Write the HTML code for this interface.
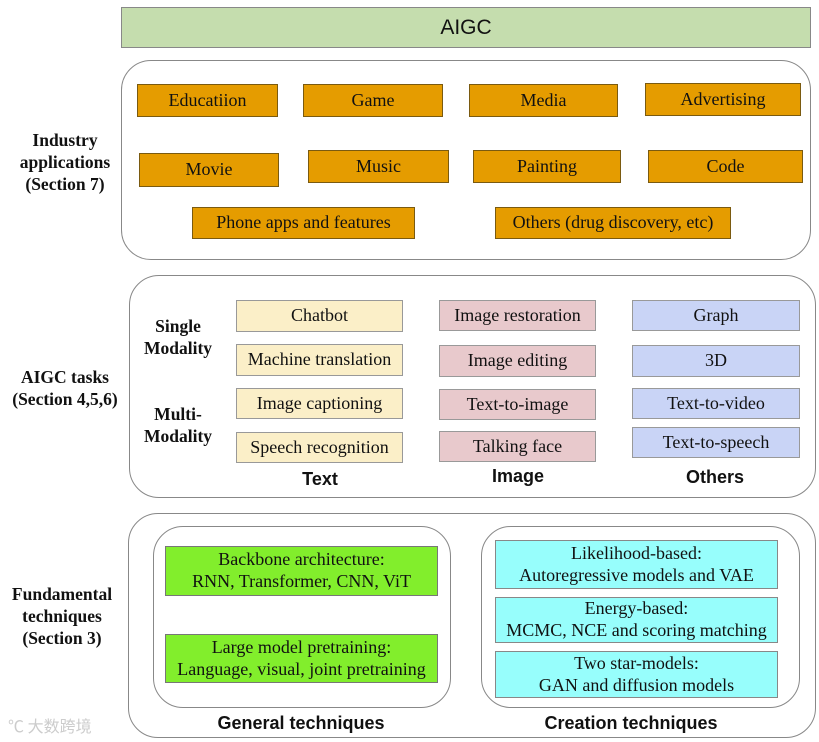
<!DOCTYPE html><html><head><style>
body{margin:0;width:819px;height:742px;background:#fff;position:relative;overflow:hidden;font-family:"Liberation Serif",serif;}
div{position:absolute;box-sizing:border-box;}
.b{display:flex;align-items:center;justify-content:center;text-align:center;font-size:18px;color:#111;line-height:1.2;white-space:nowrap;}
.o{background:#e59c00;border:1px solid #7a5a10;}
.y{background:#fbefc8;border:1px solid #999;}
.p{background:#e8c9cc;border:1px solid #999;}
.u{background:#c9d4f6;border:1px solid #999;}
.g{background:#82ee2c;border:1px solid #777;}
.c{background:#97fefc;border:1px solid #888;}
.r{border:1px solid #888;border-radius:30px;}
.l{font-weight:bold;font-size:17.5px;text-align:center;line-height:22px;color:#111;}
.h{font-family:"Liberation Sans",sans-serif;font-weight:bold;font-size:18px;text-align:center;color:#111;}
</style></head><body>
<div class="b" style="left:121px;top:7px;width:690px;height:41px;background:#c5ddae;border:1px solid #888;font-family:'Liberation Sans',sans-serif;font-size:21px;">AIGC</div>
<div class="r" style="left:121px;top:60px;width:690px;height:200px;"></div>
<div class="b o" style="left:137px;top:84px;width:141px;height:33px;">Educatiion</div>
<div class="b o" style="left:303px;top:84px;width:140px;height:33px;">Game</div>
<div class="b o" style="left:469px;top:84px;width:149px;height:33px;">Media</div>
<div class="b o" style="left:645px;top:83px;width:156px;height:33px;">Advertising</div>
<div class="b o" style="left:139px;top:153px;width:140px;height:34px;">Movie</div>
<div class="b o" style="left:308px;top:150px;width:141px;height:33px;">Music</div>
<div class="b o" style="left:473px;top:150px;width:148px;height:33px;">Painting</div>
<div class="b o" style="left:648px;top:150px;width:155px;height:33px;">Code</div>
<div class="b o" style="left:192px;top:207px;width:223px;height:32px;">Phone apps and features</div>
<div class="b o" style="left:495px;top:207px;width:236px;height:32px;">Others (drug discovery, etc)</div>
<div class="l" style="left:0;top:129px;width:130px;">Industry<br>applications<br>(Section 7)</div>

<div class="r" style="left:129px;top:275px;width:687px;height:223px;"></div>
<div class="l" style="left:0;top:366px;width:130px;">AIGC tasks<br>(Section 4,5,6)</div>
<div class="l" style="left:130px;top:315px;width:96px;">Single<br>Modality</div>
<div class="l" style="left:130px;top:403px;width:96px;">Multi-<br>Modality</div>
<div class="b y" style="left:236px;top:300px;width:167px;height:32px;">Chatbot</div>
<div class="b y" style="left:236px;top:344px;width:167px;height:32px;">Machine translation</div>
<div class="b y" style="left:236px;top:388px;width:167px;height:31px;">Image captioning</div>
<div class="b y" style="left:236px;top:432px;width:167px;height:31px;">Speech recognition</div>
<div class="b p" style="left:439px;top:300px;width:157px;height:31px;">Image restoration</div>
<div class="b p" style="left:439px;top:345px;width:157px;height:32px;">Image editing</div>
<div class="b p" style="left:439px;top:389px;width:157px;height:31px;">Text-to-image</div>
<div class="b p" style="left:439px;top:431px;width:157px;height:31px;">Talking face</div>
<div class="b u" style="left:632px;top:300px;width:168px;height:31px;">Graph</div>
<div class="b u" style="left:632px;top:345px;width:168px;height:32px;">3D</div>
<div class="b u" style="left:632px;top:388px;width:168px;height:31px;">Text-to-video</div>
<div class="b u" style="left:632px;top:427px;width:168px;height:31px;">Text-to-speech</div>
<div class="h" style="left:260px;top:469px;width:120px;">Text</div>
<div class="h" style="left:458px;top:466px;width:120px;">Image</div>
<div class="h" style="left:655px;top:467px;width:120px;">Others</div>

<div class="r" style="left:128px;top:513px;width:688px;height:225px;"></div>
<div class="l" style="left:0;top:583px;width:124px;">Fundamental<br>techniques<br>(Section 3)</div>
<div class="r" style="left:153px;top:526px;width:298px;height:182px;"></div>
<div class="r" style="left:481px;top:526px;width:319px;height:182px;"></div>
<div class="b g" style="left:165px;top:546px;width:273px;height:50px;">Backbone architecture:<br>RNN, Transformer, CNN, ViT</div>
<div class="b g" style="left:165px;top:634px;width:273px;height:49px;">Large model pretraining:<br>Language, visual, joint pretraining</div>
<div class="b c" style="left:495px;top:540px;width:283px;height:49px;">Likelihood-based:<br>Autoregressive models and VAE</div>
<div class="b c" style="left:495px;top:597px;width:283px;height:46px;">Energy-based:<br>MCMC, NCE and scoring matching</div>
<div class="b c" style="left:495px;top:651px;width:283px;height:47px;">Two star-models:<br>GAN and diffusion models</div>
<div class="h" style="left:196px;top:713px;width:210px;">General techniques</div>
<div class="h" style="left:526px;top:713px;width:210px;">Creation techniques</div>
<div style="left:8px;top:713px;font-family:'Noto Sans CJK SC',sans-serif;font-size:16px;color:#ccc;">℃ 大数跨境</div>
</body></html>
